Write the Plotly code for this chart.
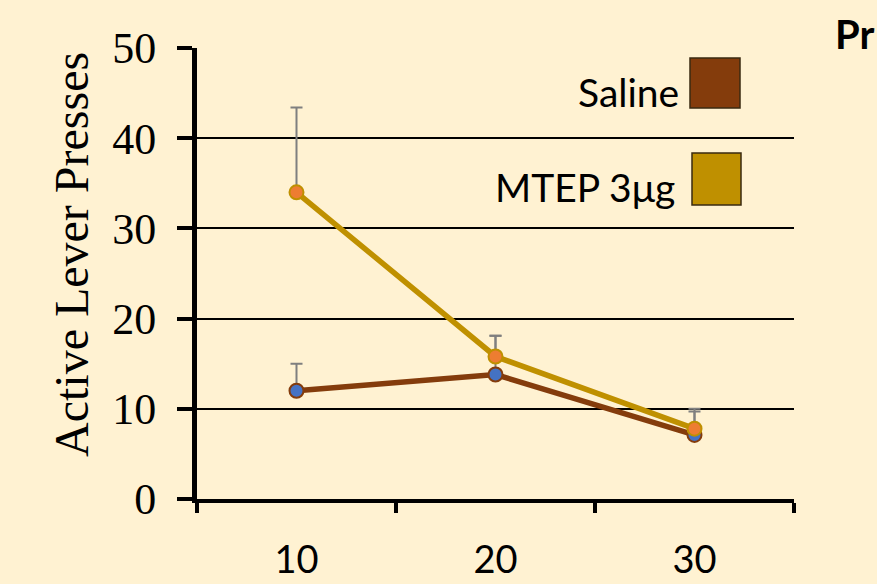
import plotly.graph_objects as go

categories = ["10", "20", "30"]
saline = [12.0, 13.8, 7.1]
saline_err = [3.0, 4.3, 2.6]
mtep = [34.0, 15.8, 7.8]
mtep_err = [9.4, 2.3, 2.2]
y_ticks = [0, 10, 20, 30, 40, 50]

BG = "#FFF2D2"
SALINE = "#843C0C"
MTEP = "#BF9000"

fig = go.Figure()
fig.add_trace(go.Scatter(
    x=categories, y=saline, mode="lines+markers", name="Saline",
    line=dict(color=SALINE, width=5.5),
    marker=dict(size=14, color="#4472C4", line=dict(color=SALINE, width=2)),
    error_y=dict(type="data", array=saline_err, arrayminus=[0, 0, 0], symmetric=False,
                 color="#7F7F7F", thickness=2, width=6),
))
fig.add_trace(go.Scatter(
    x=categories, y=mtep, mode="lines+markers", name="MTEP 3μg",
    line=dict(color=MTEP, width=5.5),
    marker=dict(size=14, color="#ED7D31", line=dict(color=MTEP, width=2)),
    error_y=dict(type="data", array=mtep_err, arrayminus=[0, 0, 0], symmetric=False,
                 color="#7F7F7F", thickness=2, width=6),
))

sans = "Lato, 'Open Sans', sans-serif"
serif = "'Liberation Serif', 'DejaVu Serif', serif"

L, R, T, B = 197, 83, 48, 85
W, H = 877, 584
pw, ph = W - L - R, H - T - B


def px(x):
    return (x - L) / pw


def py(y):
    return (H - B - y) / ph


fig.update_layout(
    width=W, height=H,
    paper_bgcolor=BG, plot_bgcolor=BG,
    margin=dict(l=L, r=R, t=T, b=B, autoexpand=False),
    showlegend=False,
    xaxis=dict(
        type="category", range=[-0.5, 2.5], tickson="boundaries", ticks="outside", ticklen=10,
        tickwidth=4, tickcolor="black", showline=True, linecolor="black", linewidth=4,
        showgrid=False, zeroline=False, ticklabelstandoff=24, automargin=False,
        tickfont=dict(family=sans, size=38, color="black"),
    ),
    yaxis=dict(
        range=[0, 50], tickvals=y_ticks, ticks="outside", ticklen=15, tickwidth=4,
        tickcolor="black", showline=True, linecolor="black", linewidth=5,
        showgrid=True, gridcolor="black", gridwidth=1.5, zeroline=False,
        ticklabelstandoff=12, automargin=False,
        tickfont=dict(family=serif, size=44, color="black"),
    ),
)

# y-axis title
fig.add_annotation(text="Active Lever Presses", xref="paper", yref="paper", x=px(71), y=py(255),
                   xanchor="center", yanchor="middle", textangle=-90, showarrow=False,
                   font=dict(family=serif, size=48, color="black"))

# custom legend (text to the left of coloured squares)
fig.add_shape(type="rect", xref="paper", yref="paper", x0=px(690), x1=px(740), y0=py(108), y1=py(58),
              fillcolor=SALINE, line=dict(color="#3A2A10", width=1.5))
fig.add_shape(type="rect", xref="paper", yref="paper", x0=px(692), x1=px(741), y0=py(205), y1=py(153),
              fillcolor=MTEP, line=dict(color="#3A2A10", width=1.5))
fig.add_annotation(text="Saline", xref="paper", yref="paper", x=px(681), y=py(92),
                   xanchor="right", yanchor="middle", showarrow=False,
                   font=dict(family=sans, size=39, color="black"))
fig.add_annotation(text="MTEP 3μg", xref="paper", yref="paper", x=px(677), y=py(187),
                   xanchor="right", yanchor="middle", showarrow=False,
                   font=dict(family=sans, size=39, color="black"))
fig.add_annotation(text="<b>Pr</b>", xref="paper", yref="paper", x=px(876), y=py(34),
                   xanchor="right", yanchor="middle", showarrow=False,
                   font=dict(family=sans, size=40, color="black"))

fig.write_html("out.html", config={"displayModeBar": False},
               post_script="document.body.style.margin='0';document.body.style.background='#FFF2D2';")
